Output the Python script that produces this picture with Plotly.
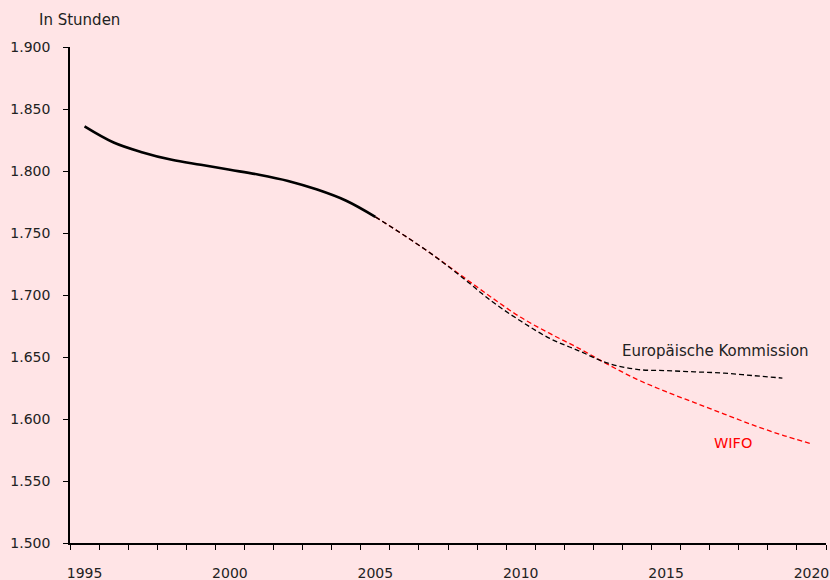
import plotly.graph_objects as go

years_hist = list(range(1995, 2006))
hours_hist = [1836, 1823, 1815, 1809, 1805, 1801, 1797, 1792, 1785, 1776, 1763]

years_ec = list(range(2005, 2020))
hours_ec = [1763, 1748, 1732, 1714, 1695, 1679, 1665, 1655, 1645, 1640, 1639, 1638, 1637, 1635, 1633]

years_wifo = list(range(2005, 2021))
hours_wifo = [1763, 1748, 1732, 1715, 1698, 1682, 1669, 1657, 1644, 1632, 1622, 1613, 1604, 1595, 1587, 1580]

x_labels = [1995, 2000, 2005, 2010, 2015, 2020]
y_ticks = [1500, 1550, 1600, 1650, 1700, 1750, 1800, 1850, 1900]

bg = "#FFE4E6"
font_family = "DejaVu Sans"

fig = go.Figure()
fig.add_trace(go.Scatter(x=years_wifo, y=hours_wifo, mode="lines",
                         line=dict(color="#FF0000", width=1.3, dash="5px,3px", shape="spline"),
                         name="WIFO", showlegend=False))
fig.add_trace(go.Scatter(x=years_ec, y=hours_ec, mode="lines",
                         line=dict(color="#000000", width=1.3, dash="5px,3px", shape="spline"),
                         name="Europäische Kommission", showlegend=False))
fig.add_trace(go.Scatter(x=years_hist, y=hours_hist, mode="lines",
                         line=dict(color="#000000", width=2.6, shape="spline"),
                         name="Ist", showlegend=False))

fig.add_annotation(x=2016.7, y=1655, xref="x", yref="y", text="Europäische Kommission",
                   showarrow=False, font=dict(family=font_family, size=15, color="#222222"),
                   xanchor="center", yanchor="middle")
fig.add_annotation(x=2017.3, y=1581, xref="x", yref="y", text="WIFO",
                   showarrow=False, font=dict(family=font_family, size=14.5, color="#FF0000"),
                   xanchor="center", yanchor="middle")
fig.add_annotation(x=(37 - 70) / 756, y=(580 - 20 - 37) / 496, xref="paper", yref="paper",
                   text="In Stunden", showarrow=False,
                   font=dict(family=font_family, size=15, color="#222222"),
                   xanchor="left", yanchor="middle")

fig.update_layout(
    width=830, height=580,
    margin=dict(l=70, r=4, t=47, b=37, autoexpand=False),
    paper_bgcolor=bg, plot_bgcolor=bg,
    separators=",.",
    font=dict(family=font_family, size=14, color="#222222"),
    showlegend=False,
)

fig.update_xaxes(
    range=[1994.5, 2020.5], automargin=False,
    tickvals=x_labels, ticktext=[str(v) for v in x_labels],
    ticks="", showgrid=False, zeroline=False,
    showline=True, linecolor="#000000", linewidth=1.5,
    ticklabelstandoff=16,
    tickfont=dict(family=font_family, size=14, color="#222222"),
    minor=dict(tick0=1994.5, dtick=1, ticks="outside", ticklen=5, tickcolor="#000000", tickwidth=1, showgrid=False),
)
fig.update_yaxes(
    range=[1500, 1900], automargin=False,
    tickvals=y_ticks, tickformat=",d",
    ticks="outside", ticklen=5, tickcolor="#000000", tickwidth=1,
    showgrid=False, zeroline=False,
    showline=True, linecolor="#000000", linewidth=1.5,
    ticklabelstandoff=10,
    tickfont=dict(family=font_family, size=14, color="#222222"),
)

fig.write_html(
    "out.html",
    config={"displayModeBar": False},
    post_script="document.body.style.margin='0';document.body.style.overflow='hidden';document.body.style.background='%s';" % bg,
)
